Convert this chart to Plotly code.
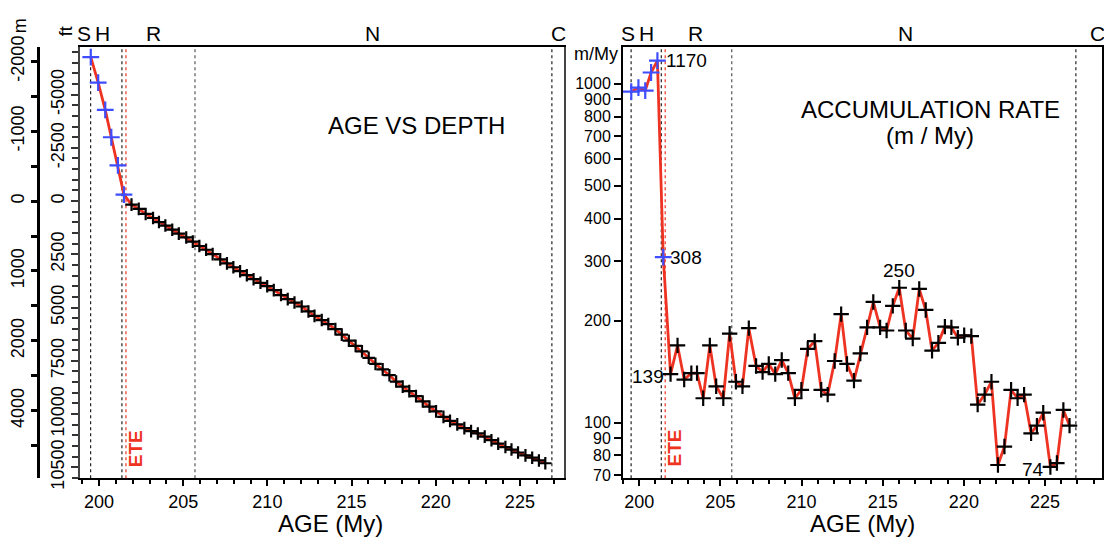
import math
import plotly.graph_objects as go

W, H = 1104, 548
FONT = "Liberation Sans, Arial, sans-serif"

# ---------------- data ----------------
blue_age = [199.51, 199.95, 200.37, 200.73, 201.12, 201.48]
blue_depth_m = [-2060, -1694, -1305, -913, -512, -92]
blue_rate = [947, 974, 954, 1079, 1170, 308]

black_age = [201.93, 202.36, 202.77, 203.21, 203.56, 203.94, 204.35, 204.74, 205.18, 205.57,
             205.96, 206.36, 206.75, 207.20, 207.60, 207.98, 208.38, 208.78, 209.18, 209.59,
             209.99, 210.38, 210.81, 211.21, 211.61, 212.04, 212.44, 212.80, 213.23, 213.62,
             214.04, 214.42, 214.84, 215.24, 215.62, 216.02, 216.42, 216.85, 217.25, 217.65,
             218.04, 218.43, 218.83, 219.23, 219.63, 220.02, 220.46, 220.85, 221.28, 221.70,
             222.10, 222.50, 222.91, 223.31, 223.71, 224.14, 224.50, 224.89, 225.33, 225.73,
             226.13, 226.51]
black_depth_m = [51, 112, 184, 242, 300, 350, 410, 466, 521, 581,
                 643, 697, 760, 834, 892, 947, 1004, 1061, 1118, 1170,
                 1218, 1274, 1345, 1404, 1452, 1509, 1580, 1643, 1703, 1760,
                 1833, 1911, 1998, 2073, 2150, 2243, 2330, 2408, 2492, 2583,
                 2656, 2720, 2792, 2868, 2941, 3010, 3088, 3145, 3196, 3250,
                 3292, 3326, 3371, 3422, 3472, 3520, 3556, 3598, 3640, 3673,
                 3712, 3752]
black_rate = [139, 169, 134, 140, 140, 118, 169, 128, 118, 183,
              132, 128, 190, 147, 141, 149, 139, 153, 140, 118,
              125, 165, 174, 125, 121, 152, 209, 149, 133, 160,
              191, 227, 191, 187, 221, 250, 187, 177, 248, 215,
              163, 172, 192, 191, 178, 181, 180, 113, 121, 132,
              75, 85, 125, 118, 121, 93, 98, 107, 74, 76,
              109, 98]

stage_bounds = [199.5, 201.36, 205.7, 226.9]
bound_colors = ["#222222", "#222222", "#555555", "#222222"]
ete_age = 201.6
stage_names = ["S", "H", "R", "N", "C"]
stage_pos_left = [199.11, 200.22, 203.21, 216.22, 227.32]
stage_pos_right = [199.29, 200.42, 203.44, 216.38, 228.21]

ft_ticks = [-5000, -2500, 0, 2500, 5000, 7500, 10000, 12500]
ft_labels = ["-5000", "-2500", "0", "2500", "5000", "7500", "10000", "10500"]
m_ticks = [-2000, -1000, 0, 1000, 2000, 3000, 4000]
m_labels = ["-2000", "-1000", "0", "1000", "2000", "4000", "4000"]
rate_ticks = [70, 80, 90, 100, 200, 300, 400, 500, 600, 700, 800, 900, 1000]

FT_PER_M = 3.28084
RED = "#ee3322"
BLUE = "#3d4dff"

# ---------------- figure ----------------
fig = go.Figure()

all_age = blue_age + black_age
all_depth = blue_depth_m + black_depth_m
all_rate = blue_rate + black_rate

# helper (invisible) trace for the ft axis
fig.add_trace(go.Scatter(x=all_age, y=[d * FT_PER_M for d in all_depth], xaxis="x", yaxis="y",
                         mode="markers", marker=dict(opacity=0), hoverinfo="skip", showlegend=False))
# depth curve (metres axis)
fig.add_trace(go.Scatter(x=all_age, y=all_depth, xaxis="x", yaxis="y3", mode="lines",
                         line=dict(color=RED, width=2.8), hoverinfo="skip", showlegend=False))
fig.add_trace(go.Scatter(x=black_age, y=black_depth_m, xaxis="x", yaxis="y3", mode="markers",
                         marker=dict(symbol="cross-thin", size=9, line=dict(color="black", width=2.2)),
                         showlegend=False))
fig.add_trace(go.Scatter(x=blue_age, y=blue_depth_m, xaxis="x", yaxis="y3", mode="markers",
                         marker=dict(symbol="cross-thin", size=12, line=dict(color=BLUE, width=2.2)),
                         showlegend=False))

# accumulation rate
fig.add_trace(go.Scatter(x=all_age, y=all_rate, xaxis="x2", yaxis="y2", mode="lines",
                         line=dict(color=RED, width=2.8), hoverinfo="skip", showlegend=False))
fig.add_trace(go.Scatter(x=black_age, y=black_rate, xaxis="x2", yaxis="y2", mode="markers",
                         marker=dict(symbol="cross-thin", size=11, line=dict(color="black", width=2.2)),
                         showlegend=False))
fig.add_trace(go.Scatter(x=blue_age, y=blue_rate, xaxis="x2", yaxis="y2", mode="markers",
                         marker=dict(symbol="cross-thin", size=12, line=dict(color=BLUE, width=2.2)),
                         showlegend=False))

ydom = [61 / H, 510 / H]
xdom1 = [80 / W, 564 / W]
xdom2 = [623 / W, 1102 / W]

tickfont = dict(family=FONT, size=18, color="black")
ratefont = dict(family=FONT, size=16, color="black")

xcommon = dict(tickmode="linear", tick0=200, dtick=5, ticks="outside", ticklen=6, tickwidth=2,
               tickcolor="black", minor=dict(dtick=1, ticks="outside", ticklen=4, tickwidth=1.5, tickcolor="black"),
               showline=True, linecolor="black", linewidth=2, mirror=True, showgrid=False, zeroline=False,
               tickfont=tickfont)

fig.update_layout(
    width=W, height=H, autosize=False,
    margin=dict(l=0, r=0, t=0, b=0),
    paper_bgcolor="white", plot_bgcolor="white",
    font=dict(family=FONT, color="black"),
    showlegend=False,
    xaxis=dict(domain=xdom1, range=[198.87, 227.62], anchor="y", **xcommon),
    xaxis2=dict(domain=xdom2, range=[199.0, 228.51], anchor="y2", **xcommon),
    yaxis=dict(domain=ydom, anchor="x", range=[3968 * FT_PER_M, -2211.5 * FT_PER_M],
               tickmode="array", tickvals=ft_ticks, ticktext=ft_labels, tickangle=-90,
               ticks="outside", ticklen=7, tickwidth=2, tickcolor="#333",
               minor=dict(tickmode="linear", tick0=0, dtick=500, ticks="outside", ticklen=6, tickwidth=2, tickcolor="#333"),
               showline=True, linecolor="#444", linewidth=2, mirror=True, showgrid=False, zeroline=False,
               tickfont=tickfont),
    yaxis3=dict(overlaying="y", anchor="free", position=38 / W, side="left",
                range=[3968, -2211.5], tickmode="array", tickvals=m_ticks, ticktext=m_labels, tickangle=-90,
                ticks="outside", ticklen=6, tickwidth=2.5, tickcolor="black",
                minor=dict(tickmode="linear", tick0=0, dtick=500, ticks="outside", ticklen=6, tickwidth=2.5, tickcolor="black"),
                showline=True, linecolor="black", linewidth=3, showgrid=False, zeroline=False,
                tickfont=tickfont),
    yaxis2=dict(domain=ydom, anchor="x2", type="log",
                range=[math.log10(68.5), math.log10(1287)],
                tickmode="array", tickvals=rate_ticks, ticktext=[str(v) for v in rate_ticks],
                ticks="outside", ticklen=7, tickwidth=2, tickcolor="black",
                showline=True, linecolor="black", linewidth=2, mirror=True, showgrid=False, zeroline=False,
                tickfont=ratefont),
)

# stage boundaries and ETE
for xr, yr in (("x", "y domain"), ("x2", "y2 domain")):
    for b, c in zip(stage_bounds, bound_colors):
        fig.add_shape(type="line", xref=xr, yref=yr, x0=b, x1=b, y0=0, y1=1,
                      line=dict(color=c, width=1.2, dash="dot"), layer="below")
    fig.add_shape(type="line", xref=xr, yref=yr, x0=ete_age, x1=ete_age, y0=0, y1=1,
                  line=dict(color=RED, width=1.2, dash="dot"), layer="below")

ann = []


def pann(px, py, text, size, angle=0):
    ann.append(dict(x=px / W, y=1 - py / H, xref="paper", yref="paper", text=text, showarrow=False,
                    textangle=angle, font=dict(size=size), xanchor="center", yanchor="middle"))


for name, p in zip(stage_names, stage_pos_left):
    ann.append(dict(x=p, xref="x", y=1 - 24 / H, yref="paper", text=name, showarrow=False,
                    font=dict(size=21), xanchor="center", yanchor="middle"))
for name, p in zip(stage_names, stage_pos_right):
    ann.append(dict(x=p, xref="x2", y=1 - 24 / H, yref="paper", text=name, showarrow=False,
                    font=dict(size=21), xanchor="center", yanchor="middle"))

# ETE labels
for xr in ("x", "x2"):
    ann.append(dict(x=ete_age, xref=xr, y=1 - 477 / H, yref="paper", text="<b>ETE</b>", showarrow=False,
                    textangle=-90, font=dict(size=19, color=RED), xanchor="center", yanchor="bottom",
                    xshift=9))

# titles
pann(416, 120, "AGE VS DEPTH", 24)
pann(930, 103, "ACCUMULATION RATE", 24)
pann(930, 131, "(m / My)", 24)
pann(330, 534, "AGE (My)", 24)
pann(862, 534, "AGE (My)", 24)

# units
pann(20, 17, "m", 18, -90)
pann(66, 22, "ft", 18, -90)
pann(596, 46, "m/My", 18)


# value labels on the rate plot
def lab(age, val, text, xanchor, yanchor, xshift=0, yshift=0):
    ann.append(dict(x=age, y=math.log10(val), xref="x2", yref="y2", text=text, showarrow=False,
                    font=dict(size=19), xanchor=xanchor, yanchor=yanchor, xshift=xshift, yshift=yshift))


lab(blue_age[4], blue_rate[4], "1170", "left", "middle", 7, 0)
lab(blue_age[5], blue_rate[5], "308", "left", "middle", 5, 0)
lab(black_age[0], black_rate[0], "139", "right", "middle", -5, -2)
lab(black_age[35], black_rate[35], "250", "center", "bottom", 0, 5)
lab(black_age[58], black_rate[58], "74", "right", "middle", -4, -3)

fig.update_layout(annotations=ann)

fig.write_html("out.html")
